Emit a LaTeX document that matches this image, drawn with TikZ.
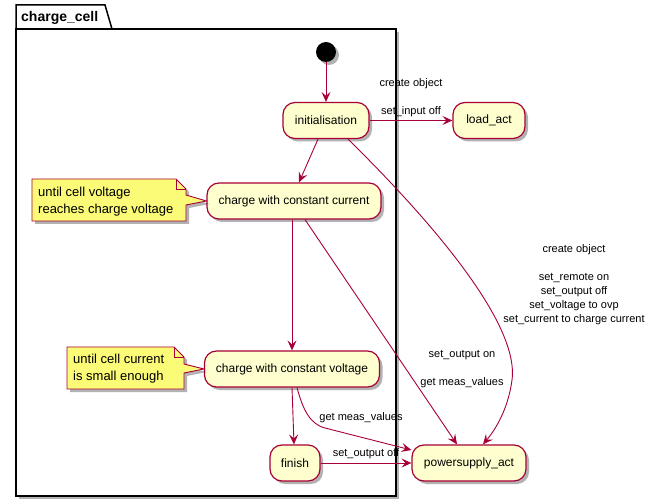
\documentclass[tikz,border=0pt]{standalone}
\usepackage{fontspec}
\setmainfont{Liberation Sans}
\usetikzlibrary{arrows.meta,shadows,calc}
\definecolor{pline}{HTML}{A80036}
\definecolor{pfill}{HTML}{FEFECE}
\definecolor{nfill}{HTML}{FBFB77}
\begin{document}
\begin{tikzpicture}[x=1pt,y=-1pt,
  shad/.style={drop shadow={shadow xshift=3pt,shadow yshift=-3pt,opacity=.3,fill=black}},
  act/.style={draw=pline, fill=pfill, line width=1.2pt, rounded corners=12pt, inner sep=0pt,
    font=\fontsize{12}{14}\selectfont, minimum height=36pt, shad},
  flow/.style={draw=pline, line width=0.9pt, -{Stealth[length=10pt,width=9pt,inset=4pt]}},
  lbl/.style={font=\fontsize{11}{14}\selectfont, align=center, inner sep=0pt},
  notebox/.style={draw=pline, fill=nfill, line width=0.9pt, shad},
  notetext/.style={font=\fontsize{13}{17}\selectfont, align=left, inner sep=0pt, anchor=west},
]
\useasboundingbox (0,0) rectangle (653,502);

% package
\draw[line width=1.5pt, fill=white, shad] (16,29) rectangle (396,496);
\draw[line width=1.5pt, fill=white] (16,29) -- (16,5) -- (105,5) -- (112,29) -- cycle;
\node[anchor=west, font=\bfseries\fontsize{14}{16}\selectfont, inner sep=0pt] (title) at (21,18) {charge\_cell};

% nodes
\node[circle, fill=black, minimum size=20pt, inner sep=0pt, shad] (start) at (326,52) {};
\node[act, minimum width=86pt] (init) at (326,120.5) {initialisation};
\node[act, minimum width=174pt] (cc) at (294,201) {charge with constant current};
\node[act, minimum width=175pt] (cv) at (292,369) {charge with constant voltage};
\node[act, minimum width=50pt] (fin) at (295,463) {finish};
\node[act, minimum width=72pt] (load) at (489,120.5) {load\_act};
\node[act, minimum width=114pt] (ps) at (469,463) {powersupply\_act};

% notes
\draw[notebox] (32,179) -- (176,179) -- (186,189) -- (186,195) -- (cc.west) -- (186,205) -- (186,221) -- (32,221) -- cycle;
\draw[draw=pline, line width=0.9pt] (176,179) -- (176,189) -- (186,189);
\node[notetext] (note1) at (38,201.5) {until cell voltage\\reaches charge voltage};

\draw[notebox] (67,347) -- (174,347) -- (184,357) -- (184,364) -- (cv.west) -- (184,373) -- (184,389) -- (67,389) -- cycle;
\draw[draw=pline, line width=0.9pt] (174,347) -- (174,357) -- (184,357);
\node[notetext] (note2) at (73,369) {until cell current\\is small enough};

% edges
\draw[flow] (start) -- (init);
\draw[flow] (init.east) -- (load.west);
\draw[flow] ([xshift=-8pt]init.south) -- ([xshift=5pt]cc.north);
\draw[flow] ([xshift=22pt]init.south) .. controls (420,210) and (520,320) .. (512,380)
  .. controls (508,410) and (495,430) .. ([xshift=14pt]ps.north);
\draw[flow] ([xshift=-2pt]cc.south) -- (cv.north);
\draw[flow] ([xshift=11pt]cc.south) -- ([xshift=-12pt]ps.north);
\draw[flow] (cv.south) -- ([xshift=-1pt]fin.north);
\draw[flow] ([xshift=5pt]cv.south) .. controls (303,410) and (310,424) .. (325,428) -- ([yshift=13pt]ps.west);
\draw[flow] (fin.east) -- (ps.west);

% labels
\node[lbl] (l1) at (411,97.5) {create object\\[14pt]set\_input off};
\node[lbl] (l2) at (574,285) {create object\\[14pt]set\_remote on\\set\_output off\\set\_voltage to ovp\\set\_current to charge current};
\node[lbl] (l3) at (462,369) {set\_output on\\[14pt]get meas\_values};
\node[lbl] (l4) at (361,418) {get meas\_values};
\node[lbl] (l5) at (366,454) {set\_output off};
\end{tikzpicture}
\end{document}
